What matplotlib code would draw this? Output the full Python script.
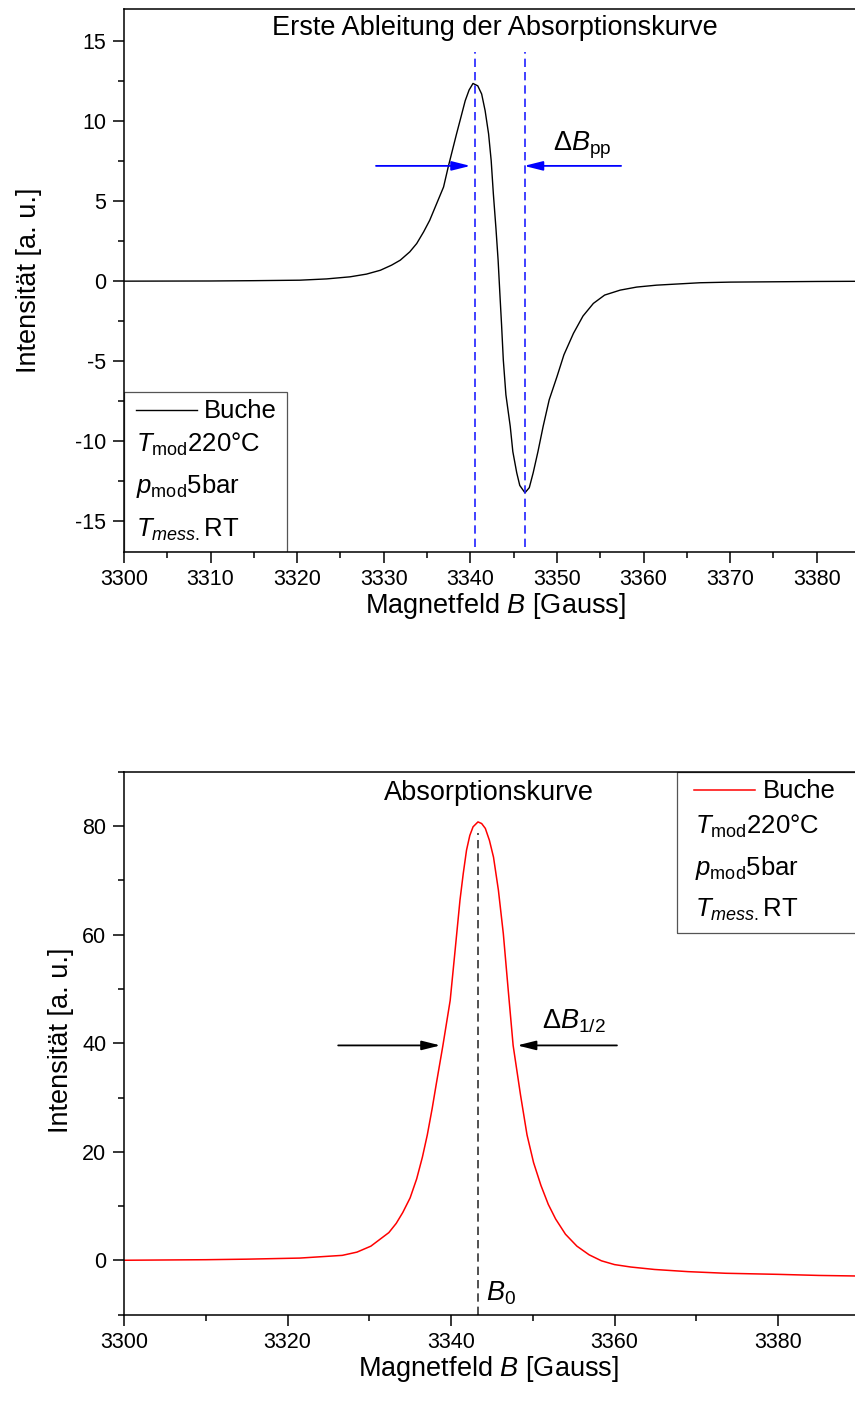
import matplotlib
matplotlib.use('Agg')
import matplotlib.pyplot as plt
from matplotlib.patches import Rectangle
from matplotlib.ticker import MultipleLocator

plt.rcParams['font.family'] = ['Liberation Sans', 'DejaVu Sans']
plt.rcParams['mathtext.fontset'] = 'custom'
plt.rcParams['mathtext.rm'] = 'Liberation Sans'
plt.rcParams['mathtext.it'] = 'Liberation Sans:italic'
plt.rcParams['mathtext.bf'] = 'Liberation Sans:bold'
plt.rcParams['axes.unicode_minus'] = False

# First derivative
b_deriv = [3300, 3310, 3315, 3320.3, 3323.4, 3326.1, 3328.0, 3329.6, 3330.9, 3331.9,
           3333.0, 3333.8, 3334.6, 3335.3, 3336.1, 3336.9, 3337.45, 3338.4, 3338.9, 3339.4,
           3339.85, 3340.3, 3340.85, 3341.3, 3341.7, 3342.1, 3342.4, 3342.65, 3342.95, 3343.2,
           3343.4, 3343.6, 3343.8, 3344.1, 3344.6, 3344.9, 3345.35, 3345.7, 3346.3, 3346.8,
           3347.25, 3347.8, 3348.4, 3349.1, 3350.0, 3350.8, 3351.9, 3353.0, 3354.2, 3355.5,
           3357.3, 3359.2, 3361.5, 3366.5, 3370, 3375, 3380, 3384.4]
i_deriv = [0.0, 0.01, 0.03, 0.06, 0.14, 0.27, 0.44, 0.68, 1.0, 1.31,
           1.83, 2.35, 3.08, 3.8, 4.84, 5.88, 7.16, 9.2, 10.23, 11.27,
           11.94, 12.35, 12.2, 11.69, 10.65, 9.2, 7.53, 5.46, 3.3, 1.31,
           -0.75, -2.74, -4.92, -7.1, -9.07, -10.65, -11.97, -12.76, -13.22, -12.9,
           -11.97, -10.65, -9.07, -7.41, -5.96, -4.6, -3.26, -2.18, -1.39, -0.87,
           -0.56, -0.37, -0.25, -0.1, -0.06, -0.04, -0.02, -0.01]

# Absorption curve
b_abs = [3300, 3305, 3310, 3315, 3321.5, 3326.7, 3328.5, 3330.2, 3332.4, 3333.3,
         3334.1, 3335.0, 3335.8, 3336.5, 3337.1, 3337.7, 3338.2, 3339.0, 3339.9, 3340.5,
         3341.1, 3341.5, 3341.9, 3342.3, 3342.7, 3343.3, 3343.75, 3344.2, 3344.7, 3345.2,
         3345.8, 3346.4, 3347.0, 3347.6, 3348.5, 3349.3, 3350.1, 3351.0, 3351.9, 3352.8,
         3354.0, 3355.4, 3356.9, 3358.4, 3360.0, 3362.0, 3364.9, 3369.0, 3373.6, 3380.0,
         3385.0, 3389.5]
i_abs = [0.0, 0.05, 0.1, 0.2, 0.4, 0.9, 1.5, 2.6, 5.1, 6.8,
         8.8, 11.5, 15.0, 19.0, 23.1, 28.0, 32.5, 39.5, 47.9, 57.1,
         66.4, 71.3, 75.6, 78.3, 79.9, 80.8, 80.5, 79.6, 77.4, 74.3,
         68.2, 60.2, 49.8, 39.6, 30.5, 23.1, 18.0, 13.8, 10.3, 7.6,
         4.8, 2.6, 1.0, -0.1, -0.8, -1.25, -1.7, -2.1, -2.4, -2.6,
         -2.8, -2.9]

peak_pos = [3340.5, 3346.3]
b0 = 3343.3
label_lines = ['Buche', r'$T_{\mathrm{mod}}$220°C', r'$p_{\mathrm{mod}}$5bar', r'$T_{mess.}$RT']

W, H = 855, 1401
fig = plt.figure(figsize=(W / 100, H / 100), dpi=100)
ax1 = fig.add_axes([124 / W, 1 - 551.7 / H, 731 / W, 542.7 / H])
ax2 = fig.add_axes([124 / W, 1 - 1314.5 / H, 731 / W, 542.5 / H])

tick_fs = 15.5
label_fs = 19.5
leg_fs = 18.5


def style(ax):
    ax.spines['right'].set_visible(False)
    for s in ['left', 'bottom', 'top']:
        ax.spines[s].set_linewidth(1.1)
    ax.tick_params(which='both', direction='out', top=False, right=False, width=1.1,
                   labelsize=tick_fs, pad=5)
    ax.tick_params(which='major', length=7.7)
    ax.tick_params(which='minor', length=4)


# ---- top: derivative ----
ax1.plot(b_deriv, i_deriv, color='black', lw=1.0)
ax1.set_xlim(3300, 3300 + 731 / 8.66)
ax1.set_ylim(-16.9, 17.0)
ax1.xaxis.set_major_locator(MultipleLocator(10))
ax1.xaxis.set_minor_locator(MultipleLocator(5))
ax1.yaxis.set_major_locator(MultipleLocator(5))
ax1.yaxis.set_minor_locator(MultipleLocator(2.5))
style(ax1)
for p in peak_pos:
    ax1.vlines(p, -16.6, 14.3, colors='#2020ff', linestyles=(0, (5, 3)), lw=1.2)
arrow_kw = dict(arrowstyle='-|>,head_length=0.8,head_width=0.2', mutation_scale=14,
                lw=1.3, shrinkA=0, shrinkB=0)
ax1.annotate('', xy=(3340.0, 7.2), xytext=(3329.1, 7.2),
             arrowprops=dict(color='blue', **arrow_kw))
ax1.annotate('', xy=(3346.2, 7.2), xytext=(3357.4, 7.2),
             arrowprops=dict(color='blue', **arrow_kw))
ax1.text(3349.5, 8.16, r'$\Delta B_{\mathrm{pp}}$', fontsize=label_fs, va='baseline')
ax1.text(0.5075, 0.952, 'Erste Ableitung der Absorptionskurve', transform=ax1.transAxes,
         fontsize=label_fs, ha='center', va='baseline')
ax1.set_xlabel('Magnetfeld $B$ [Gauss]', fontsize=label_fs)
ax1.set_ylabel('Intensität [a. u.]', fontsize=label_fs)
ax1.xaxis.set_label_coords(0.5075, -0.072)
ax1.yaxis.set_label_coords(-0.112, 0.5)

ax1.add_patch(Rectangle((0, 0), 0.223, 0.294, transform=ax1.transAxes, fill=False,
                        edgecolor='#555555', lw=0.9))
ax1.plot([0.0164, 0.0998], [0.261, 0.261], transform=ax1.transAxes, color='black', lw=1.0)
ax1.text(0.109, 0.246, label_lines[0], transform=ax1.transAxes, fontsize=leg_fs, va='baseline')
for txt, yy in zip(label_lines[1:], [0.184, 0.108, 0.028]):
    ax1.text(0.0164, yy, txt, transform=ax1.transAxes, fontsize=leg_fs, va='baseline')

# ---- bottom: absorption ----
ax2.plot(b_abs, i_abs, color='red', lw=1.1)
ax2.set_xlim(3300, 3300 + 731 / 8.175)
ax2.set_ylim(-10, 90)
ax2.xaxis.set_major_locator(MultipleLocator(20))
ax2.xaxis.set_minor_locator(MultipleLocator(10))
ax2.yaxis.set_major_locator(MultipleLocator(20))
ax2.yaxis.set_minor_locator(MultipleLocator(10))
style(ax2)
ax2.vlines(b0, -10, 78.7, colors='#333333', linestyles=(0, (5, 3)), lw=1.2)
ax2.annotate('', xy=(3338.7, 39.6), xytext=(3326.2, 39.6),
             arrowprops=dict(color='black', **arrow_kw))
ax2.annotate('', xy=(3348.1, 39.6), xytext=(3360.3, 39.6),
             arrowprops=dict(color='black', **arrow_kw))
ax2.text(3351.1, 42.8, r'$\Delta B_{\mathrm{1/2}}$', fontsize=label_fs, va='baseline')
ax2.text(3344.3, -7.4, r'$B_{\mathrm{0}}$', fontsize=label_fs, va='baseline')
ax2.text(0.499, 0.948, 'Absorptionskurve', transform=ax2.transAxes,
         fontsize=label_fs, ha='center', va='baseline')
ax2.set_xlabel('Magnetfeld $B$ [Gauss]', fontsize=label_fs)
ax2.set_ylabel('Intensität [a. u.]', fontsize=label_fs)
ax2.xaxis.set_label_coords(0.499, -0.072)
ax2.yaxis.set_label_coords(-0.068, 0.506)

ax2.add_patch(Rectangle((0.7565, 0.7038), 0.3, 0.2962, transform=ax2.transAxes, fill=False,
                        edgecolor='#555555', lw=0.9))
ax2.plot([0.780, 0.863], [0.9668, 0.9668], transform=ax2.transAxes, color='red', lw=1.1)
ax2.text(0.8746, 0.9515, label_lines[0], transform=ax2.transAxes, fontsize=leg_fs, va='baseline')
for txt, yy in zip(label_lines[1:], [0.8857, 0.810, 0.733]):
    ax2.text(0.781, yy, txt, transform=ax2.transAxes, fontsize=leg_fs, va='baseline')

fig.savefig('out.png', dpi=100)
